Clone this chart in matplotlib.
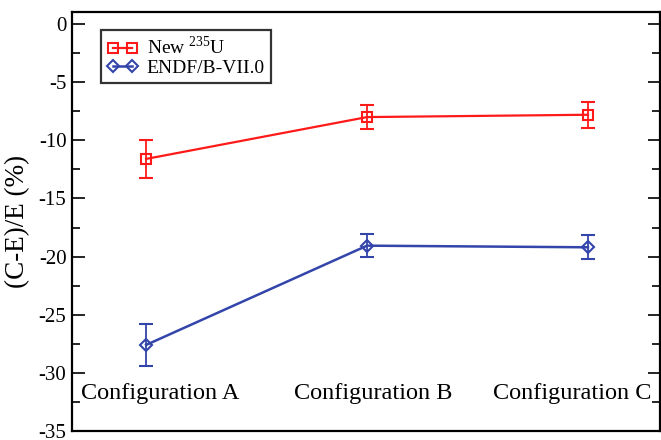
import matplotlib
matplotlib.use("Agg")
import matplotlib.pyplot as plt
from matplotlib.ticker import MultipleLocator
from matplotlib.lines import Line2D

plt.rcParams['font.family'] = ['Liberation Serif', 'DejaVu Serif']
plt.rcParams['mathtext.fontset'] = 'custom'
plt.rcParams['mathtext.rm'] = 'Liberation Serif'

categories = ["Configuration A", "Configuration B", "Configuration C"]
x_pos = [1, 2, 3]
new_u235 = [-11.6, -8.0, -7.8]
new_u235_err = [1.65, 1.03, 1.1]
endf = [-27.6, -19.06, -19.2]
endf_err = [1.8, 1.0, 1.05]

label_x = [1.063, 2.03, 2.93]
label_y = -31.75

fig = plt.figure(figsize=(6.61, 4.40), dpi=100)
ax = fig.add_axes([0.109, 0.0205, 0.8895, 0.952])

red = '#ff1a1a'
blue = '#3344aa'
ax.errorbar(x_pos, new_u235, yerr=new_u235_err, color=red, lw=1.6,
            marker='s', ms=7, mfc='none', mec=red, mew=1.5,
            capsize=5, elinewidth=1.3, capthick=1.3)
ax.errorbar(x_pos, endf, yerr=endf_err, color=blue, lw=1.8,
            marker='D', ms=6, mfc='none', mec=blue, mew=1.5,
            capsize=5, elinewidth=1.3, capthick=1.3)

ax.set_xlim(0.665, 3.326)
ax.set_ylim(-35, 1.03)
ax.yaxis.set_major_locator(MultipleLocator(5))
ax.yaxis.set_minor_locator(MultipleLocator(2.5))
ax.set_xticks([])
ax.tick_params(axis='y', which='major', direction='in', length=9, width=1.2,
               left=True, right=True, labelsize=15, pad=4)
ax.tick_params(axis='y', which='minor', direction='in', length=6, width=1.2,
               left=True, right=True)
ax.set_yticklabels([f"{int(v)}" for v in ax.get_yticks()])
for s in ax.spines.values():
    s.set_linewidth(1.6)

for cx, name in zip(label_x, categories):
    ax.text(cx, label_y, name, ha='center', va='center', fontsize=17.5)

ax.set_ylabel('(C-E)/E (%)', fontsize=19.5, labelpad=6)

handles = [
    Line2D([], [], color=red, lw=1.6, marker='s', ms=7, mfc='none', mec=red, mew=1.5),
    Line2D([], [], color=blue, lw=1.8, marker='D', ms=6, mfc='none', mec=blue, mew=1.5),
]
labels = [r'New $^{235}$U', 'ENDF/B-VII.0']
leg = ax.legend(handles, labels, loc='upper left', bbox_to_anchor=(0.049, 0.957),
                fontsize=14, numpoints=2,
                frameon=True, fancybox=False, edgecolor='black',
                handlelength=1.6, handletextpad=0.45, borderpad=0.3,
                labelspacing=0.05, borderaxespad=0)
leg.get_frame().set_linewidth(1.6)

fig.savefig('out.png', dpi=100)
